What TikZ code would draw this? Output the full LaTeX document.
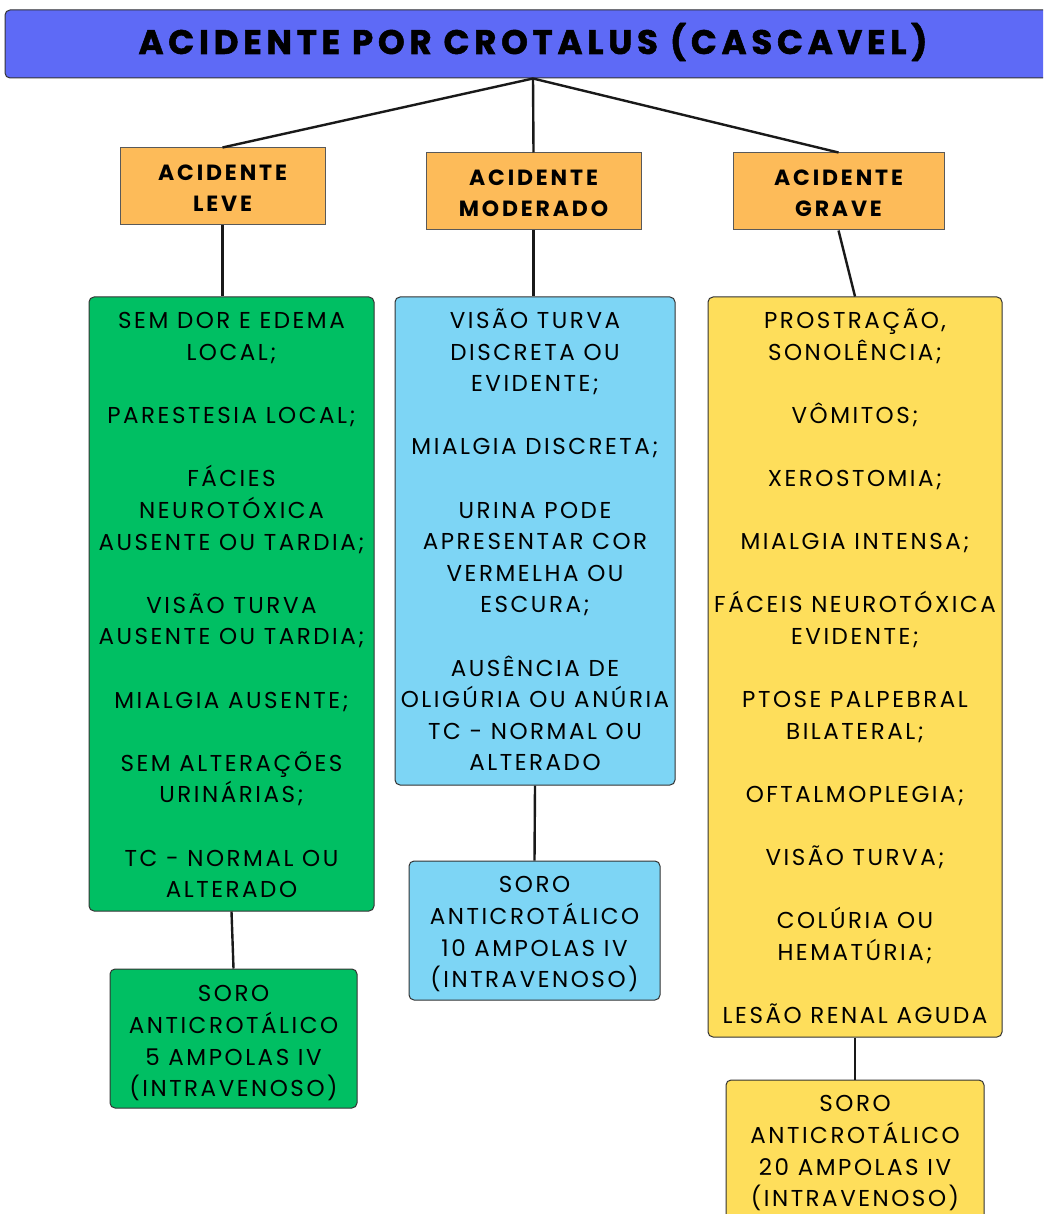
\documentclass[tikz,border=0pt]{standalone}
\usepackage{fontspec}
\setmainfont{Poppins}
\newfontfamily\trackedfont[LetterSpace=11]{Poppins}
\newfontfamily\headfont[LetterSpace=13]{Poppins}
\newfontfamily\titlefont[LetterSpace=14, BoldFeatures={FakeBold=1.5}]{Poppins}
\definecolor{titleblue}{HTML}{5E6AF6}
\definecolor{headorange}{HTML}{FDBB59}
\definecolor{leafgreen}{HTML}{00BF63}
\definecolor{skyblue}{HTML}{7DD5F5}
\definecolor{sunyellow}{HTML}{FEDE5B}
\begin{document}
\begin{tikzpicture}[x=1pt,y=-1pt,
  box/.style={draw=black!80, line width=1pt, rounded corners=5pt, inner sep=0pt},
  headbox/.style={draw=black!65, line width=1pt, fill=headorange, inner sep=0pt},
  link/.style={line width=2.4pt, draw=black!90},
  bodytext/.style={font=\trackedfont\fontsize{23}{31.6}\selectfont, align=center,
    inner sep=0pt, anchor=north, execute at begin node=\strut},
  headtext/.style={font=\headfont\bfseries\fontsize{22}{31}\selectfont, align=center,
    inner sep=0pt, anchor=north, execute at begin node=\strut},
]
\useasboundingbox (0,0) rectangle (1043,1214);
\clip (0,0) rectangle (1043,1214);
\fill[white] (0,0) rectangle (1043,1214);

% title bar
\node[box, fill=titleblue, minimum width=1056pt, minimum height=68pt] (title) at (533,44) {};
\node[font=\titlefont\bfseries\fontsize{34}{40}\selectfont, anchor=base, inner sep=0pt] (titletxt) at (533,54) {ACIDENTE POR CROTALUS (CASCAVEL)};

% severity headings
\node[headbox, minimum width=205pt, minimum height=77pt] (leve) at (222.5,186.5) {};
\node[headbox, minimum width=215pt, minimum height=77pt] (mod) at (533.5,191.5) {};
\node[headbox, minimum width=211pt, minimum height=77pt] (grave) at (838.5,191.5) {};
\node[headtext] (levetxt) at (222.5,164.5) {ACIDENTE\\LEVE};
\node[headtext] (modtxt) at (533.5,169.5) {ACIDENTE\\MODERADO};
\node[headtext] (gravetxt) at (838.5,169.5) {ACIDENTE\\GRAVE};

% symptom boxes
\node[box, fill=leafgreen, minimum width=285pt, minimum height=614pt] (gbox) at (231.5,604) {};
\node[box, fill=skyblue, minimum width=280pt, minimum height=488pt] (bbox) at (535,541) {};
\node[box, fill=sunyellow, minimum width=294pt, minimum height=740pt] (ybox) at (855,667) {};

% treatment boxes
\node[box, fill=leafgreen, minimum width=247pt, minimum height=139pt] (gsoro) at (233.5,1038.5) {};
\node[box, fill=skyblue, minimum width=251pt, minimum height=139pt] (bsoro) at (534.5,930.5) {};
\node[box, fill=sunyellow, minimum width=258pt, minimum height=145pt] (ysoro) at (855,1152.5) {};

% connectors
\draw[link] (title.south) -- (leve.north);
\draw[link] (title.south) -- (mod.north);
\draw[link] (title.south) -- (grave.north);
\draw[link] (leve.south) -- (leve.south |- gbox.north);
\draw[link] (mod.south) -- (mod.south |- bbox.north);
\draw[link] (grave.south) -- (ybox.north);
\draw[link] (gbox.south) -- (gsoro.north);
\draw[link] (bbox.south) -- (bsoro.north);
\draw[link] (ybox.south) -- (ysoro.north);

% symptom texts (first lines with a tilde sit a little taller)
\node[bodytext] (gtxt) at (231.5,312.5) {SEM DOR E EDEMA\\LOCAL;\\[31.6pt]
PARESTESIA LOCAL;\\[31.6pt]
FÁCIES\\NEUROTÓXICA\\AUSENTE OU TARDIA;\\[31.6pt]
VISÃO TURVA\\AUSENTE OU TARDIA;\\[31.6pt]
MIALGIA AUSENTE;\\[31.6pt]
SEM ALTERAÇÕES\\URINÁRIAS;\\[31.6pt]
TC - NORMAL OU\\ALTERADO};

\node[bodytext] (btxt) at (535,308.5) {VISÃO TURVA\\DISCRETA OU\\EVIDENTE;\\[31.6pt]
MIALGIA DISCRETA;\\[31.6pt]
URINA PODE\\APRESENTAR COR\\VERMELHA OU\\ESCURA;\\[31.6pt]
AUSÊNCIA DE\\OLIGÚRIA OU ANÚRIA\\TC - NORMAL OU\\ALTERADO};

\node[bodytext] (ytxt) at (855,308.5) {PROSTRAÇÃO,\\SONOLÊNCIA;\\[31.6pt]
VÔMITOS;\\[31.6pt]
XEROSTOMIA;\\[31.6pt]
MIALGIA INTENSA;\\[31.6pt]
FÁCEIS NEUROTÓXICA\\EVIDENTE;\\[31.6pt]
PTOSE PALPEBRAL\\BILATERAL;\\[31.6pt]
OFTALMOPLEGIA;\\[31.6pt]
VISÃO TURVA;\\[31.6pt]
COLÚRIA OU\\HEMATÚRIA;\\[31.6pt]
LESÃO RENAL AGUDA};

% treatment texts
\node[bodytext] (gsorotxt) at (233.5,985.5) {SORO\\ANTICROTÁLICO\\5 AMPOLAS IV\\(INTRAVENOSO)};
\node[bodytext] (bsorotxt) at (534.5,876.5) {SORO\\ANTICROTÁLICO\\10 AMPOLAS IV\\(INTRAVENOSO)};
\node[bodytext] (ysorotxt) at (855,1095.5) {SORO\\ANTICROTÁLICO\\20 AMPOLAS IV\\(INTRAVENOSO)};
\end{tikzpicture}
\end{document}
